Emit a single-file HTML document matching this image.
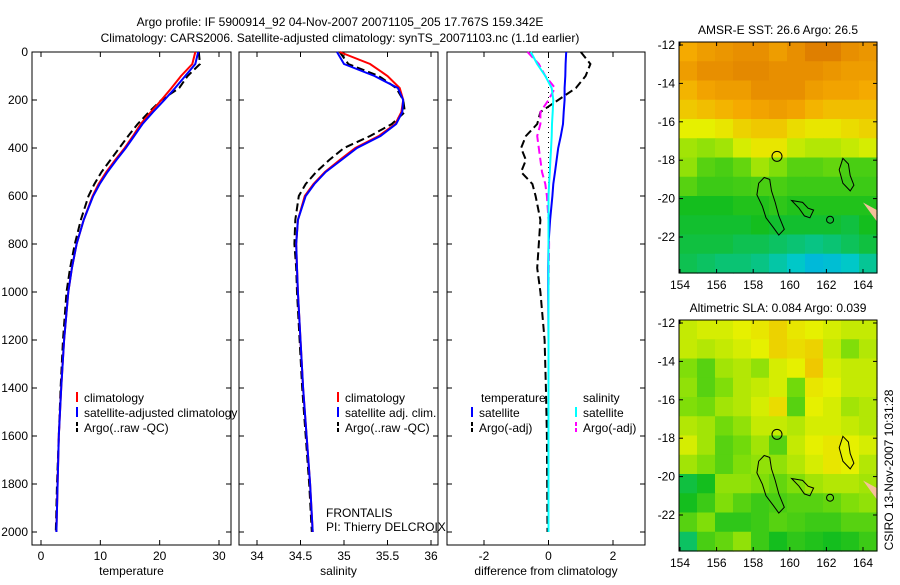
<!DOCTYPE html>
<html><head><meta charset="utf-8"><style>
body{margin:0;background:#fff;font-family:"Liberation Sans",sans-serif}
svg text{font-family:"Liberation Sans",sans-serif;font-size:12px;fill:#000}
</style></head><body>
<svg id="s" width="900" height="580" viewBox="0 0 900 580">
<rect width="900" height="580" fill="#fff"/>
<g id="g"></g>
<text x="340" y="26" text-anchor="middle" font-size="13">Argo profile: IF 5900914_92 04-Nov-2007 20071105_205 17.767S 159.342E</text>
<text x="340" y="42" text-anchor="middle" font-size="13">Climatology: CARS2006. Satellite-adjusted climatology: synTS_20071103.nc (1.1d earlier)</text>
<text x="0" y="0" transform="translate(893,470) rotate(-90)" text-anchor="middle">CSIRO 13-Nov-2007 10:31:28</text>
</svg>
<script>
// ---- data ----
const depthT=[0,50,100,150,200,250,300,350,400,450,500,550,600,700,800,900,1000,1200,1400,1600,1800,2000];
const tempClim=[26,25.5,23.6,22,20.3,18.5,16.8,15.5,14.1,12.5,11,9.7,8.7,7.2,6,5.2,4.6,3.9,3.4,3.0,2.8,2.6];
const tempSat=[26.5,26,24.3,22.6,20.8,18.9,17.1,15.7,14.3,12.7,11.2,9.9,8.8,7.2,6,5.2,4.6,3.9,3.4,3.0,2.8,2.6];
const tempArgo=[26.6,26.8,24.7,23.3,20.3,18.2,16.3,14.7,13.2,11.7,10.2,9.0,8.0,6.7,5.7,4.9,4.3,3.7,3.3,3.0,2.7,2.5];
const salClim=[34.95,35.3,35.5,35.64,35.68,35.66,35.59,35.4,35.13,34.95,34.78,34.65,34.55,34.47,34.45,34.46,34.47,34.5,34.53,34.57,34.61,34.64];
const salSat=[34.92,35.0,35.35,35.62,35.68,35.67,35.6,35.42,35.15,34.97,34.79,34.66,34.56,34.47,34.45,34.46,34.47,34.5,34.53,34.57,34.61,34.64];
const salArgo=[34.95,35.05,35.4,35.6,35.68,35.7,35.55,35.3,35.0,34.83,34.68,34.56,34.48,34.44,34.43,34.45,34.46,34.49,34.52,34.56,34.6,34.63];
const dTsat=[0.55,0.53,0.52,0.5,0.5,0.47,0.45,0.38,0.3,0.25,0.2,0.15,0.12,0.05,0,-0.01,-0.01,0,0,0,0,0];
const dTargo=[1.0,1.3,1.15,0.85,0.3,-0.25,-0.35,-0.7,-0.85,-0.7,-0.85,-0.5,-0.4,-0.25,-0.3,-0.35,-0.25,-0.12,-0.08,-0.05,-0.04,-0.03];
const dSsat=[-0.55,-0.35,-0.1,0.1,0.15,0.13,0.11,0.1,0.08,0.06,0.04,0.02,0,0,0,0,0,0,0,0,0,0];
const dSargo=[-0.65,-0.3,-0.1,0.2,0.0,-0.25,-0.25,-0.35,-0.3,-0.25,-0.2,-0.1,-0.05,0,0.02,0.01,0,0,0,0,0,0];
const depthTicks=[0,200,400,600,800,1000,1200,1400,1600,1800,2000];
const tTicks=[0,10,20,30], sTicks=[34,34.5,35,35.5,36], dTicks=[-2,0,2];
const lonTicks=[154,156,158,160,162,164], latTicks=[-12,-14,-16,-18,-20,-22];
const sst=[
[0.82,0.86,0.88,0.9,0.9,0.86,0.9,0.95,0.95,0.9,0.88],
[0.86,0.9,0.9,0.92,0.92,0.9,0.9,0.9,0.88,0.86,0.86],
[0.8,0.84,0.86,0.86,0.9,0.9,0.9,0.86,0.84,0.84,0.82],
[0.76,0.78,0.8,0.82,0.84,0.86,0.84,0.8,0.78,0.78,0.78],
[0.68,0.68,0.7,0.74,0.76,0.76,0.72,0.7,0.7,0.72,0.74],
[0.6,0.58,0.6,0.66,0.7,0.7,0.64,0.62,0.62,0.64,0.66],
[0.58,0.5,0.48,0.52,0.6,0.56,0.5,0.5,0.52,0.48,0.48],
[0.5,0.46,0.46,0.47,0.48,0.48,0.46,0.46,0.46,0.46,0.46],
[0.4,0.4,0.4,0.42,0.42,0.44,0.42,0.42,0.42,0.42,0.42],
[0.38,0.38,0.38,0.38,0.4,0.38,0.38,0.38,0.38,0.36,0.4],
[0.36,0.36,0.36,0.34,0.34,0.32,0.3,0.28,0.3,0.33,0.36],
[0.34,0.32,0.3,0.3,0.28,0.24,0.2,0.14,0.16,0.2,0.26]];
const sla=[
[0.64,0.66,0.66,0.68,0.7,0.74,0.7,0.68,0.66,0.64,0.64],
[0.64,0.62,0.64,0.66,0.68,0.74,0.72,0.74,0.64,0.56,0.62],
[0.56,0.5,0.6,0.62,0.58,0.66,0.68,0.76,0.66,0.64,0.64],
[0.58,0.5,0.56,0.62,0.64,0.66,0.54,0.7,0.68,0.64,0.64],
[0.56,0.54,0.6,0.62,0.66,0.72,0.5,0.68,0.66,0.6,0.62],
[0.62,0.6,0.54,0.58,0.64,0.64,0.62,0.66,0.66,0.64,0.62],
[0.66,0.6,0.5,0.54,0.6,0.5,0.64,0.68,0.7,0.68,0.66],
[0.6,0.56,0.5,0.56,0.58,0.58,0.62,0.66,0.7,0.68,0.62],
[0.36,0.4,0.58,0.58,0.56,0.52,0.56,0.6,0.62,0.62,0.6],
[0.4,0.46,0.56,0.5,0.46,0.48,0.5,0.5,0.52,0.56,0.58],
[0.5,0.56,0.44,0.44,0.46,0.5,0.48,0.46,0.46,0.5,0.5],
[0.32,0.48,0.52,0.58,0.46,0.4,0.44,0.42,0.4,0.42,0.46]];
// ---- helpers ----
const NS='http://www.w3.org/2000/svg', G=document.getElementById('g');
function mk(t,a,p){const e=document.createElementNS(NS,t);for(const k in a)e.setAttribute(k,a[k]);(p||G).appendChild(e);return e;}
const yD=d=>52+d*0.24;
function axLin(v0,p0,v1,p1){return v=>p0+(v-v0)*(p1-p0)/(v1-v0);}
function panel(x0,x1,xs,ticks,label,name,showY){
 const b=mk('rect',{x:x0,y:52,width:x1-x0,height:493,fill:'none',stroke:'#000'});
 
 
 depthTicks.forEach(d=>{mk('line',{x1:x0,x2:x0+5,y1:yD(d),y2:yD(d),stroke:'#000'});mk('line',{x1:x1,x2:x1-5,y1:yD(d),y2:yD(d),stroke:'#000'});
  if(showY){const t=mk('text',{x:x0-4,y:yD(d)+4,'text-anchor':'end'});t.textContent=d;
  
  }});
 ticks.forEach(v=>{const X=xs(v);mk('line',{x1:X,x2:X,y1:545,y2:540,stroke:'#000'});mk('line',{x1:X,x2:X,y1:52,y2:57,stroke:'#000'});
  const t=mk('text',{x:X,y:560,'text-anchor':'middle'});t.textContent=v;
  
  });
 const l=mk('text',{x:(x0+x1)/2,y:575,'text-anchor':'middle'});l.textContent=label;
 
 
}
function line(xs,vals,depths,color,dash,name,w){
 const d=vals.map((v,i)=>(i?'L':'M')+xs(v).toFixed(1)+' '+yD(depths[i]).toFixed(1)).join(' ');
 const p=mk('path',{d:d,fill:'none',stroke:color,'stroke-width':w||2,'stroke-dasharray':dash||'none'});
 
 
}
function legend(x,y,items,name){
 items.forEach((it,i)=>{const Y=y+i*15;mk('line',{x1:x,x2:x,y1:Y-10,y2:Y,stroke:it[1],'stroke-width':2,'stroke-dasharray':it[2]||'none'});
  const t=mk('text',{x:x+7,y:Y});t.textContent=it[0];
  
  });
}
const xT=axLin(0,41,30,219);
panel(32,231,xT,tTicks,'temperature','temperature-panel',true);
line(xT,tempArgo,depthT,'#000','8,4','temp-argo-line');
line(xT,tempClim,depthT,'#f00',null,'temp-climatology-line');
line(xT,tempSat,depthT,'#00f',null,'temp-satellite-line');
legend(77,402,[['climatology','#f00'],['satellite-adjusted climatology','#00f'],['Argo(..raw -QC)','#000','4,2']],'temp-legend');
const xS=axLin(34,257,36,431);
panel(239,438,xS,sTicks,'salinity','salinity-panel',false);
line(xS,salArgo,depthT,'#000','8,4','sal-argo-line');
line(xS,salClim,depthT,'#f00',null,'sal-climatology-line');
line(xS,salSat,depthT,'#00f',null,'sal-satellite-line');
legend(338,402,[['climatology','#f00'],['satellite adj. clim.','#00f'],['Argo(..raw -QC)','#000','4,2']],'sal-legend');
[['FRONTALIS',517],['PI: Thierry DELCROIX',531]].forEach(a=>{const t=mk('text',{x:326,y:a[1]});t.textContent=a[0];
 
 });
const xDf=axLin(-2,484,2,613);
panel(447,645,xDf,dTicks,'difference from climatology','difference-panel',false);
mk('line',{x1:xDf(0),x2:xDf(0),y1:52,y2:yD(600),stroke:'#000','stroke-dasharray':'1,4'});
line(xDf,dTargo,depthT,'#000','8,4','diff-temp-argo-line');
line(xDf,dSargo,depthT,'#f0f','8,4','diff-sal-argo-line');
line(xDf,dTsat,depthT,'#00f',null,'diff-temp-satellite-line');
line(xDf,dSsat,depthT,'#0ff',null,'diff-sal-satellite-line');
const h1=mk('text',{x:481,y:402});h1.textContent='temperature';


const h2=mk('text',{x:583,y:402});h2.textContent='salinity';


legend(472,417,[['satellite','#00f'],['Argo(-adj)','#000','4,2']],'diff-temp-legend');
legend(576,417,[['satellite','#0ff'],['Argo(-adj)','#f0f','4,2']],'diff-sal-legend');
const stops=[[0,[0,150,255]],[0.2,[0,200,200]],[0.4,[20,190,30]],[0.55,[120,220,10]],[0.68,[230,240,0]],[0.82,[245,170,0]],[1,[215,110,0]]];
function cmap(t){for(let i=1;i<stops.length;i++){if(t<=stops[i][0]){const a=stops[i-1],b=stops[i],f=(t-a[0])/(b[0]-a[0]);return 'rgb('+a[1].map((c,k)=>Math.round(c+(b[1][k]-c)*f)).join(',')+')';}}return 'rgb(215,110,0)';}
function map(top,grid,title,name){
 const X=axLin(154,680,164,863), Y=axLin(-12,top+3,-22,top+195);
 const L=679,R=877,T=top,B=top+231;
 const ch=(B-T)/grid.length, cw=(R-L)/grid[0].length;
 const gc=mk('g',{});
 
 
 grid.forEach((row,r)=>row.forEach((v,c)=>{
  mk('rect',{x:L+c*cw,y:T+r*ch,width:cw+0.6,height:ch+0.6,fill:cmap(v)},gc);}));
 const cl=mk('g',{fill:'none',stroke:'#000','stroke-width':1});
 
 
 const P=pts=>pts.map((p,i)=>(i?'L':'M')+X(p[0]).toFixed(1)+' '+Y(p[1]).toFixed(1)).join(' ')+'Z';
 mk('path',{d:P([[158.6,-18.9],[158.9,-19],[159,-19.6],[159.2,-20.2],[159.4,-20.9],[159.7,-21.6],[159.4,-21.9],[159.1,-21.5],[158.7,-21],[158.5,-20.4],[158.2,-19.8],[158.3,-19.2]])},cl);
 mk('path',{d:P([[160.1,-20.1],[160.7,-20.2],[161.0,-20.5],[161.3,-20.6],[161.1,-21.0],[160.8,-20.9],[160.5,-20.5]])},cl);
 mk('path',{d:P([[162.9,-17.9],[163.2,-18.2],[163.3,-18.8],[163.5,-19.3],[163.3,-19.6],[162.9,-19.2],[162.7,-18.5]])},cl);
 mk('circle',{cx:X(162.2),cy:Y(-21.1),r:3.5},cl);
 mk('path',{d:'M'+X(164)+' '+Y(-20.2)+' L'+R+' '+Y(-20.6)+' L'+R+' '+Y(-21.2)+' Z',fill:'#f5c09a',stroke:'none'},cl);
 const c=mk('circle',{cx:X(159.3),cy:Y(-17.8),r:5,fill:'none',stroke:'#000'});
 
 
 const f=mk('rect',{x:L,y:T,width:R-L,height:B-T,fill:'none',stroke:'#000'});
 
 
 lonTicks.forEach(v=>{mk('line',{x1:X(v),x2:X(v),y1:B,y2:B-4,stroke:'#000'});mk('line',{x1:X(v),x2:X(v),y1:T,y2:T+4,stroke:'#000'});
  const t=mk('text',{x:X(v),y:B+16,'text-anchor':'middle'});t.textContent=v;
  
  });
 latTicks.forEach(v=>{mk('line',{x1:L,x2:L+4,y1:Y(v),y2:Y(v),stroke:'#000'});mk('line',{x1:R,x2:R-4,y1:Y(v),y2:Y(v),stroke:'#000'});
  const t=mk('text',{x:L-4,y:Y(v)+4,'text-anchor':'end'});t.textContent=v;
  
  });
 const tt=mk('text',{x:(L+R)/2,y:T-8,'text-anchor':'middle'});tt.textContent=title;
 
 
}
map(42,sst,'AMSR-E SST: 26.6 Argo: 26.5','sst-map');
map(320,sla,'Altimetric SLA: 0.084 Argo: 0.039','sla-map');
</script>
</body></html>
